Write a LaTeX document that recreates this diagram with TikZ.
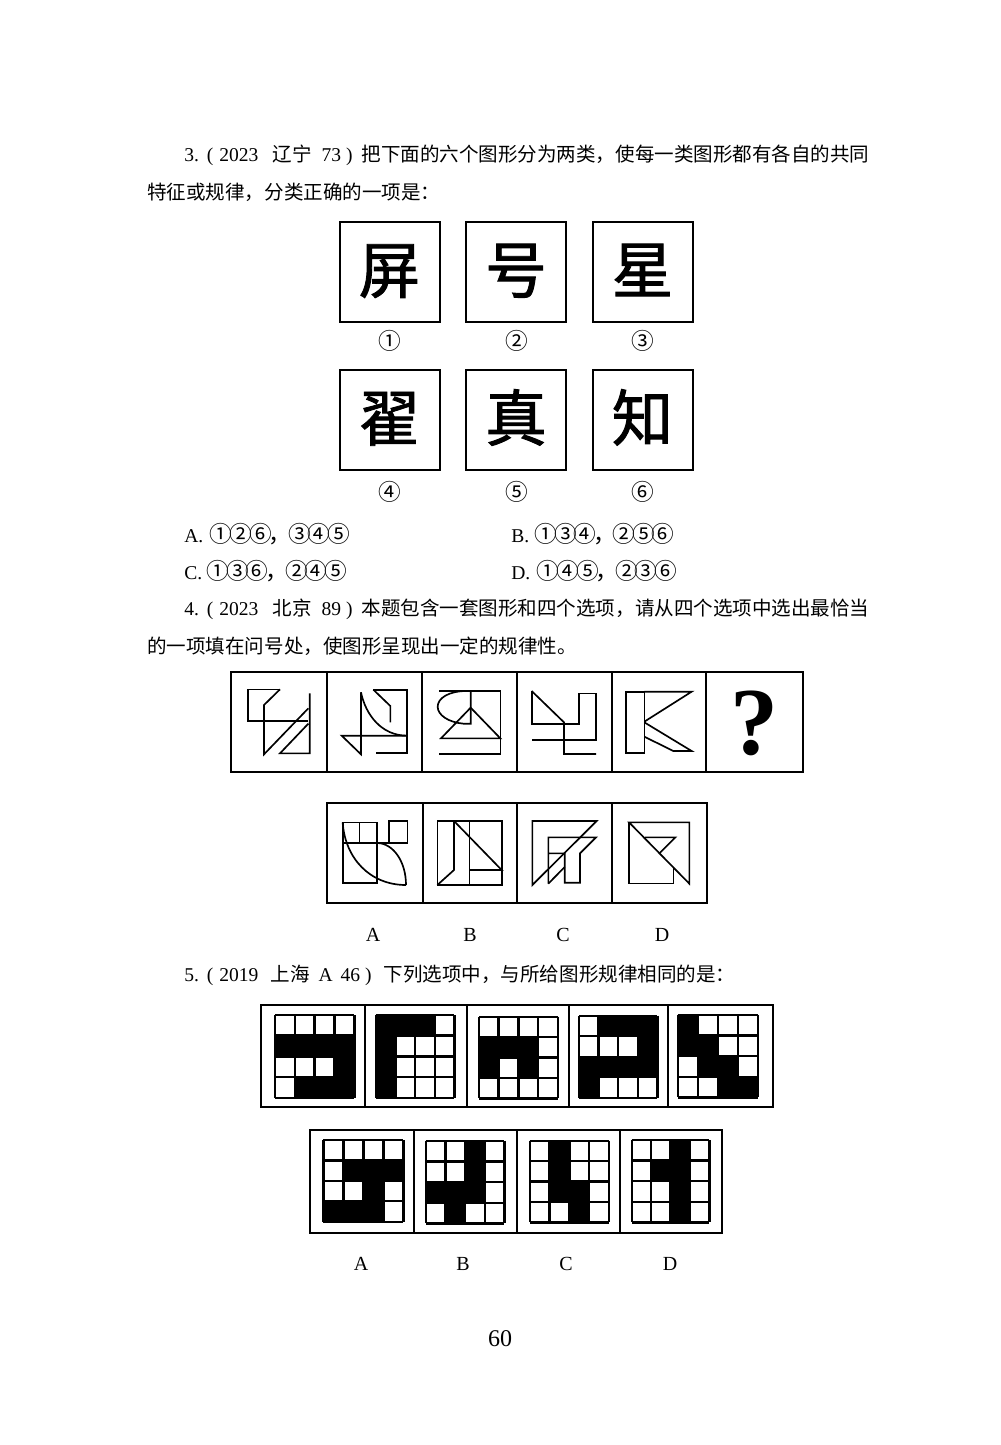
\documentclass[tikz,border=0pt]{standalone}
\usepackage{fontspec}
\setmainfont{Liberation Serif}
\newfontfamily\cjk{Noto Sans CJK SC}
\newfontfamily\charfont[FakeBold=1.5]{Noto Sans CJK SC}
\newfontfamily\circfont[LetterSpace=-13.8]{Noto Sans CJK SC}
\usepackage{tikz}
\newcommand{\gap}[1]{\hspace{#1pt}}
\newcommand{\circs}[1]{{\fontsize{17pt}{18pt}\selectfont\circfont #1}}
\tikzset{
  bodytext/.style={anchor=west,inner sep=0pt,font=\fontsize{14.65pt}{18pt}\selectfont},
  optlabel/.style={inner sep=0pt,font=\fontsize{15pt}{18pt}\selectfont},
  numlabel/.style={inner sep=0pt,font=\fontsize{17pt}{18pt}\selectfont\circfont},
  charbox/.style={draw,line width=1.5pt,minimum size=75pt,inner sep=0pt,text height=38pt,text depth=6pt,font=\fontsize{46pt}{50pt}\selectfont\charfont},
  strip/.style={line width=1.5pt},
  figline/.style={line width=1.25pt},
  gridline/.style={line width=1.8pt}
}
% x y width height, then the black cells as col/row
\newcommand{\tilegrid}[5]{
  \foreach \c/\r in {#5}
    \fill[black] ({#1+\c*#3/4},{#2+\r*#4/4}) rectangle ({#1+(\c+1)*#3/4},{#2+(\r+1)*#4/4});
  \foreach \i in {0,...,4} {
    \draw[gridline] ({#1+\i*#3/4},#2) -- ({#1+\i*#3/4},{#2+#4});
    \draw[gridline] (#1,{#2+\i*#4/4}) -- ({#1+#3},{#2+\i*#4/4});
  }
}

\begin{document}
\begin{tikzpicture}[x=0.75pt,y=-0.75pt]
  \useasboundingbox (0,0) rectangle (1000,1445);

  % Question 3
  \node[bodytext] (q3a) at (184,155) {3.\gap{6}(\gap{4.5}2023\gap{10.5}{\cjk 辽宁}\gap{7.5}73\gap{3.75})\gap{6.75}{\cjk 把下面的六个图形分为两类，使每一类图形都有各自的共同}};
  \node[bodytext] (q3b) at (147,192) {\cjk 特征或规律，分类正确的一项是：};

  \node[charbox] (zi1) at (389.5,271.5) {屏};
  \node[charbox] (zi2) at (516,271.5) {号};
  \node[charbox] (zi3) at (642.5,271.5) {星};
  \node[charbox] (zi4) at (389.5,419.5) {翟};
  \node[charbox] (zi5) at (516,419.5) {真};
  \node[charbox] (zi6) at (642.5,419.5) {知};

  \node[numlabel] (n1) at (390,341) {①};
  \node[numlabel] (n2) at (517,341) {②};
  \node[numlabel] (n3) at (643,341) {③};
  \node[numlabel] (n4) at (390,492) {④};
  \node[numlabel] (n5) at (517,492) {⑤};
  \node[numlabel] (n6) at (643,492) {⑥};

  \node[bodytext] (q3A) at (184,534) {A.\gap{5}\circs{①②⑥，③④⑤}};
  \node[bodytext] (q3B) at (511,534) {B.\gap{4}\circs{①③④，②⑤⑥}};
  \node[bodytext] (q3C) at (184,571) {C.\gap{3.5}\circs{①③⑥，②④⑤}};
  \node[bodytext] (q3D) at (511,571) {D.\gap{5}\circs{①④⑤，②③⑥}};

  % Question 4
  \node[bodytext] (q4a) at (184,609) {4.\gap{6}(\gap{4.5}2023\gap{10.5}{\cjk 北京}\gap{7.5}89\gap{3.75})\gap{6.75}{\cjk 本题包含一套图形和四个选项，请从四个选项中选出最恰当}};
  \node[bodytext] (q4b) at (147,646) {\cjk 的一项填在问号处，使图形呈现出一定的规律性。};

  % Sequence strip
  \draw[strip] (231,672) rectangle (803,772);
  \foreach \x in {326.5,422,516.5,611.5,706}
    \draw[strip] (\x,672) -- (\x,772);
  \begin{scope}[shift={(225,665)},x=0.25pt,y=-0.25pt,figline]
    \draw (165,73) -- (68,73) -- (68,168) -- (250,168);
    \draw (165,73) -- (117,120) -- (117,268) -- (250,130);
    \draw (254,85) -- (254,265) -- (165,265) -- (250,176);
    \draw (445,74) -- (546,74) -- (546,264) -- (453,264);
    \draw (445,74) -- (496,123) -- (496,172);
    \draw (408,82) .. controls (422,150) and (470,212) .. (546,212);
    \draw (408,82) -- (408,268) -- (350,212) -- (546,212);
    \draw (643,77) -- (826,77) -- (826,266) -- (643,266);
    \draw (648,220) -- (826,220) -- (737,128) -- cycle;
    \draw (737,77) -- (737,176) -- (715,176) .. controls (670,172) and (638,150) .. (638,125) .. controls (638,100) and (670,78) .. (725,78);
  \end{scope}
  \begin{scope}[shift={(510,665)},x=0.25pt,y=-0.25pt,figline]
    \draw (65,78) -- (65,176) -- (207,176) -- (207,85) -- (257,85) -- (257,225) -- (65,225);
    \draw (65,78) -- (162,172) -- (162,267) -- (258,267);
    \draw (348,80) rectangle (403,264);
    \draw (403,80) -- (545,80) -- (403,170);
    \draw (403,172) -- (545,258) -- (490,258) -- (403,215);
  \end{scope}
  \node[inner sep=0pt,font=\fontsize{72pt}{80pt}\selectfont\bfseries] (qmark) at (754,723) {?};

  % Options of question 4
  \draw[strip] (326.7,803) rectangle (706.7,903);
  \foreach \x in {422.7,516.7,612.3}
    \draw[strip] (\x,803) -- (\x,903);
  \begin{scope}[shift={(320,795)},x=0.25pt,y=-0.25pt,figline]
    \draw (68,82) rectangle (170,264);
    \draw (68,144) -- (262,144) -- (262,78) -- (206,78) -- (206,144);
    \draw (118,82) -- (118,144);
    \draw (68,82) .. controls (75,190) and (150,270) .. (258,270);
    \draw (172,144) .. controls (220,145) and (258,200) .. (258,270);
    \draw (352,78) rectangle (545,270);
    \draw (402,78) -- (545,225) -- (448,225);
    \draw (402,78) -- (402,225) -- (352,270);
    \draw (448,78) -- (448,270);
    \draw (830,78) -- (637,78) -- (637,270) -- cycle;
    \draw (685,266) -- (685,127) -- (828,127) -- (780,175) -- (780,263) -- (734,263) -- (734,175) -- (685,175);
    \draw (685,266) -- (734,216);
    \draw (927,82) -- (1108,82) -- (1108,266) -- cycle;
    \draw (927,82) -- (927,265) -- (1060,265) -- (1060,218);
    \draw (975,127) -- (1066,127) -- (1018,175);
  \end{scope}
  \node[optlabel] (a4) at (373,934.5) {A};
  \node[optlabel] (b4) at (470,934.5) {B};
  \node[optlabel] (c4) at (563,934.5) {C};
  \node[optlabel] (d4) at (662,934.5) {D};

  % Question 5
  \node[bodytext] (q5a) at (184,975) {5.\gap{6}(\gap{4.5}2019\gap{9}{\cjk 上海}\gap{6.75}A\gap{6}46\gap{3.75})\gap{9}{\cjk 下列选项中，与所给图形规律相同的是：}};

  \draw[strip] (261,1004.7) rectangle (772.7,1107);
  \foreach \x in {365,466.7,569,667.7}
    \draw[strip] (\x,1004.7) -- (\x,1107);
  \tilegrid{275}{1015}{79.3}{82.7}{0/1,1/1,2/1,3/1,3/2,1/3,2/3,3/3}
  \tilegrid{375.7}{1015}{78.7}{82.7}{0/0,1/0,2/0,0/1,0/2,0/3}
  \tilegrid{479}{1016.7}{78.7}{81.7}{0/1,1/1,2/1,0/2,2/2}
  \tilegrid{579}{1015.7}{78.3}{82}{1/0,2/0,3/0,3/1,0/2,1/2,2/2,3/2,0/3}
  \tilegrid{677.7}{1015}{80}{82.3}{0/0,0/1,1/1,1/2,2/2,2/3,3/3}

  \draw[strip] (310,1129.7) rectangle (721.7,1233.3);
  \foreach \x in {414.3,516.7,620}
    \draw[strip] (\x,1129.7) -- (\x,1233.3);
  \tilegrid{323.3}{1140}{80}{81.7}{1/1,2/1,3/1,2/2,0/3,1/3,2/3}
  \tilegrid{425.7}{1140.7}{78.7}{82.7}{2/0,2/1,0/2,1/2,2/2,1/3}
  \tilegrid{529.7}{1140.7}{79.3}{81.7}{1/0,1/1,1/2,2/2,2/3}
  \tilegrid{631.7}{1140}{77.7}{82.3}{2/0,1/1,2/1,2/2,2/3}

  \node[optlabel] (a5) at (361,1263.5) {A};
  \node[optlabel] (b5) at (463,1263.5) {B};
  \node[optlabel] (c5) at (566,1263.5) {C};
  \node[optlabel] (d5) at (670,1263.5) {D};

  % Page number
  \node[inner sep=0pt,font=\fontsize{18pt}{20pt}\selectfont] (page) at (500,1339) {60};
\end{tikzpicture}
\end{document}
